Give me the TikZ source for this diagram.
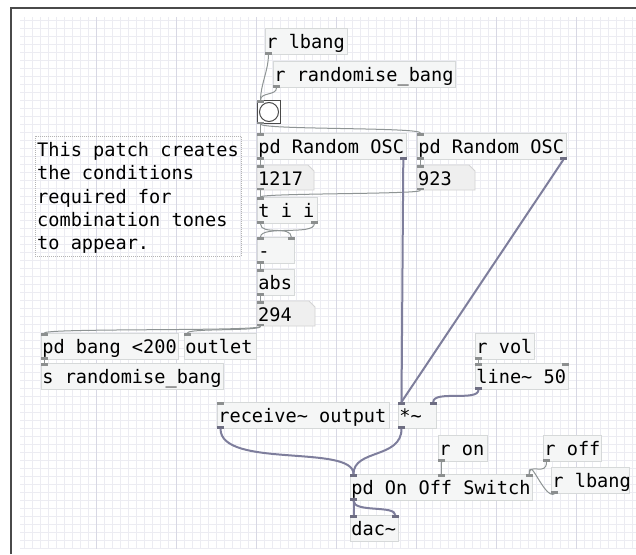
\documentclass[tikz,border=0pt]{standalone}
\usepackage{fontspec}
\newfontfamily\pdfont{DejaVu Sans Mono}
\newcommand\pdtxt{\pdfont\fontsize{18.6}{22}\selectfont}
\definecolor{boxfill}{HTML}{F5F6F6}
\definecolor{boxline}{HTML}{D6D9D9}
\definecolor{numfill}{HTML}{EFEFEF}
\definecolor{numline}{HTML}{D4D4D4}
\definecolor{portc}{HTML}{8C8F8F}
\definecolor{sportc}{HTML}{6E6E82}
\definecolor{ctlc}{HTML}{8E9494}
\definecolor{sigc}{HTML}{7E7E9C}
\definecolor{gridminor}{HTML}{ECECF2}
\definecolor{gridmajor}{HTML}{D8D8E4}
\definecolor{framec}{HTML}{4A4A4A}
\definecolor{cmtc}{HTML}{B4B4B4}
\tikzset{
  obj/.style={draw=boxline, fill=boxfill, line width=0.8pt, anchor=north west,
    inner xsep=1pt, inner ysep=2pt, text height=18.5pt, text depth=3.5pt, font=\pdtxt},
  numo/.style={anchor=north west, inner xsep=1pt, inner ysep=1.5pt,
    text height=18.5pt, text depth=3.5pt, font=\pdtxt},
  ctl/.style={draw=ctlc, line width=1pt},
  sig/.style={draw=sigc, line width=2pt},
  pt/.style={fill=portc},
  spt/.style={fill=sportc},
}
\newcommand\pdbox[5]{\node[obj] (#1) at (#2,#3) {\makebox[\dimexpr#4pt-2pt\relax][l]{#5}};}
\newcommand\numbox[5]{%
  \filldraw[fill=numfill, draw=numline, line width=0.8pt] (#2,#3) -- (#2+#4-6,#3) -- (#2+#4,#3+6) -- (#2+#4,#3+25) -- (#2,#3+25) -- cycle;
  \node[numo] (#1) at (#2,#3) {\makebox[\dimexpr#4pt-2pt\relax][l]{#5}};}
\begin{document}
\begin{tikzpicture}[x=1pt,y=-1pt]
\useasboundingbox (0,0) rectangle (636,554);
\fill[white] (0,0) rectangle (636,554);
% grid
\foreach \x in {24.5,32.5,...,636} \draw[gridminor, line width=0.8pt] (\x,17) -- (\x,549);
\foreach \y in {20,28,...,549} \draw[gridminor, line width=0.8pt] (20,\y) -- (636,\y);
\foreach \x in {96.5,176.5,...,636} \draw[gridmajor, line width=0.8pt] (\x,17) -- (\x,549);
% window frame
\draw[framec, line width=2pt] (11,554) -- (11,8) -- (636,8);

% comment
\node[draw=cmtc, dash pattern=on 1pt off 1pt, line width=0.8pt, minimum width=206, minimum height=120, anchor=north west, inner sep=0] (cmt) at (35,136) {};
\node[anchor=base west, inner sep=0, font=\pdtxt] (c1) at (37,156.7) {This patch creates};
\node[anchor=base west, inner sep=0, font=\pdtxt] (c2) at (37,179.9) {the conditions};
\node[anchor=base west, inner sep=0, font=\pdtxt] (c3) at (37,203.1) {required for};
\node[anchor=base west, inner sep=0, font=\pdtxt] (c4) at (37,226.3) {combination tones};
\node[anchor=base west, inner sep=0, font=\pdtxt] (c5) at (37,249.5) {to appear.};

% objects
\pdbox{rlbangA}{265}{28}{82}{r lbang}
\pdbox{rrand}{273}{61}{182}{r randomise\_bang}
\node[draw=framec, fill=white, line width=1pt, minimum size=23, anchor=north west, inner sep=0] (bang) at (257,100) {};
\node[circle, draw=framec, fill=white, line width=1pt, minimum size=19, inner sep=0] (bangc) at (bang.center) {};
\pdbox{oscA}{257}{133}{149}{pd Random OSC}
\pdbox{oscB}{417}{133}{149}{pd Random OSC}
\numbox{numA}{257}{165}{57}{1217}
\numbox{numB}{417}{165}{58}{923}
\pdbox{tii}{257}{197}{60}{t i i}
\pdbox{minus}{257}{237}{37}{-}
\pdbox{abs}{257}{269}{37}{abs}
\numbox{numC}{257}{301}{58}{294}
\pdbox{pdbang}{41}{333}{137}{pd bang <200}
\pdbox{outl}{184}{333}{72}{outlet}
\pdbox{srand}{41}{363}{182}{s randomise\_bang}
\pdbox{rvol}{475}{333}{59}{r vol}
\pdbox{line}{475}{363}{93}{line\textasciitilde{} 50}
\pdbox{recv}{217}{402}{172}{receive\textasciitilde{} output}
\pdbox{mul}{398}{402}{38}{*\textasciitilde}
\pdbox{ron}{438}{435}{49}{r on}
\pdbox{roff}{543}{435}{58}{r off}
\pdbox{rlbangB}{551}{467}{78}{r lbang}
\pdbox{onoff}{350}{474}{182}{pd On Off Switch}
\pdbox{dac}{350}{515}{48}{dac\textasciitilde}

% ports: outlets (bottom) and inlets (top)
\foreach \n in {rlbangA,rrand,bang,oscA,oscB,numA,numB,tii,minus,abs,numC,pdbang,rvol,ron,roff,rlbangB}
  \fill[pt] (\n.south west) rectangle ++(7,-2.5);
\foreach \n in {bang,oscA,oscB,numA,numB,tii,minus,abs,numC,pdbang,outl,srand,line,recv}
  \fill[pt] (\n.north west) rectangle ++(7,2.5);
\fill[pt] ([xshift=-7pt]tii.south east) rectangle ++(7,-2.5);
\fill[pt] ([xshift=-7pt]minus.north east) rectangle ++(7,2.5);
\fill[pt] ([xshift=-7pt]line.north east) rectangle ++(7,2.5);
\fill[pt] ([xshift=-3.5pt]onoff.north) rectangle ++(7,2.5);
\fill[pt] ([xshift=-7pt]onoff.north east) rectangle ++(7,2.5);
\foreach \n in {oscA,oscB}
  \fill[spt] ([xshift=-7pt]\n.south east) rectangle ++(7,-2.5);
\foreach \n in {line,recv,mul,onoff}
  \fill[spt] (\n.south west) rectangle ++(7,-2.5);
\foreach \n in {mul,onoff,dac}
  \fill[spt] (\n.north west) rectangle ++(7,2.5);
\foreach \n in {mul,dac}
  \fill[spt] ([xshift=-7pt]\n.north east) rectangle ++(7,2.5);

% control connections
\draw[ctl] ([xshift=3.5pt]rlbangA.south west) .. controls +(0,15) and +(0,-15) .. ([xshift=3.5pt]bang.north west);
\draw[ctl] ([xshift=3.5pt]rrand.south west) .. controls +(0,8) and +(0,-8) .. ([xshift=3.5pt]bang.north west);
\draw[ctl] ([xshift=3.5pt]bang.south west) -- ([xshift=3.5pt]oscA.north west);
\draw[ctl] ([xshift=3.5pt]bang.south west) .. controls +(0,6) and +(0,-6) .. ([xshift=3.5pt]oscB.north west);
\draw[ctl] ([xshift=3.5pt]oscA.south west) -- ([xshift=3.5pt]numA.north west);
\draw[ctl] ([xshift=3.5pt]oscB.south west) -- ([xshift=3.5pt]numB.north west);
\draw[ctl] ([xshift=3.5pt]numA.south west) -- ([xshift=3.5pt]tii.north west);
\draw[ctl] ([xshift=3.5pt]numB.south west) .. controls +(0,4) and +(0,-4) .. ([xshift=3.5pt]tii.north west);
\draw[ctl] ([xshift=3.5pt]tii.south west) .. controls +(0,12) and +(0,-12) .. ([xshift=-3.5pt]minus.north east);
\draw[ctl] ([xshift=-3.5pt]tii.south east) .. controls +(0,12) and +(0,-12) .. ([xshift=3.5pt]minus.north west);
\draw[ctl] ([xshift=3.5pt]minus.south west) -- ([xshift=3.5pt]abs.north west);
\draw[ctl] ([xshift=3.5pt]abs.south west) -- ([xshift=3.5pt]numC.north west);
\draw[ctl] ([xshift=3.5pt]numC.south west) .. controls +(0,5) and +(0,-5) .. ([xshift=3.5pt]pdbang.north west);
\draw[ctl] ([xshift=3.5pt]numC.south west) .. controls +(0,5) and +(0,-5) .. ([xshift=3.5pt]outl.north west);
\draw[ctl] ([xshift=3.5pt]pdbang.south west) -- ([xshift=3.5pt]srand.north west);
\draw[ctl] ([xshift=3.5pt]rvol.south west) -- ([xshift=3.5pt]line.north west);
\draw[ctl] ([xshift=3.5pt]ron.south west) -- (onoff.north);
\draw[ctl] ([xshift=3.5pt]roff.south west) .. controls +(0,15) and +(0,-12) .. ([xshift=-3.5pt]onoff.north east);
\draw[ctl] ([xshift=3.5pt]rlbangB.south west) .. controls +(-10,6) and +(0,-20) .. ([xshift=-3.5pt]onoff.north east);

% signal connections
\draw[sig] ([xshift=-3.5pt]oscA.south east) -- ([xshift=3.5pt]mul.north west);
\draw[sig] ([xshift=-3.5pt]oscB.south east) -- ([xshift=3.5pt]mul.north west);
\draw[sig] ([xshift=3.5pt]line.south west) .. controls +(0,12) and +(0,-12) .. ([xshift=-3.5pt]mul.north east);
\draw[sig] ([xshift=3.5pt]recv.south west) .. controls +(0,40) and +(0,-30) .. ([xshift=3.5pt]onoff.north west);
\draw[sig] ([xshift=3.5pt]mul.south west) .. controls +(0,30) and +(0,-25) .. ([xshift=3.5pt]onoff.north west);
\draw[sig] ([xshift=3.5pt]onoff.south west) -- ([xshift=3.5pt]dac.north west);
\draw[sig] ([xshift=3.5pt]onoff.south west) .. controls +(0,12) and +(0,-10) .. ([xshift=-3.5pt]dac.north east);
\end{tikzpicture}
\end{document}
